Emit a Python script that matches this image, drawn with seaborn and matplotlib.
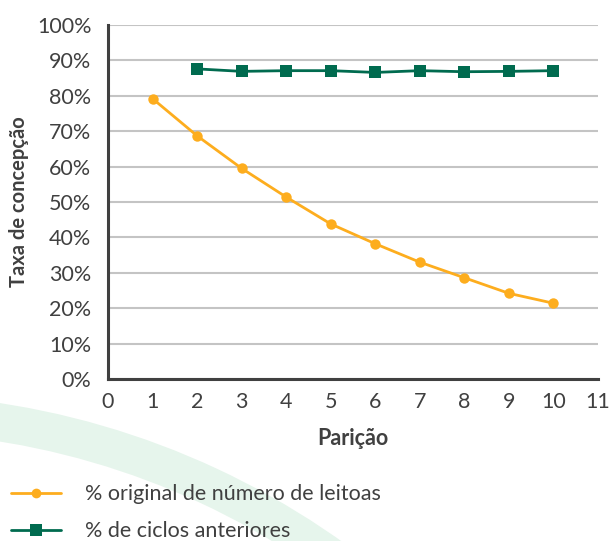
import numpy as np
import pandas as pd
import matplotlib.pyplot as plt
import seaborn as sns
from matplotlib.patches import Wedge
from matplotlib.lines import Line2D

# --------------------------------------------------------------------------- #
# Data
# --------------------------------------------------------------------------- #
paricao_original = [1, 2, 3, 4, 5, 6, 7, 8, 9, 10]
taxa_original = [79.2, 68.7, 59.5, 51.4, 43.8, 38.2, 33.0, 28.6, 24.2, 21.4]

paricao_ciclos = [2, 3, 4, 5, 6, 7, 8, 9, 10]
taxa_ciclos = [87.6, 86.9, 87.1, 87.1, 86.6, 87.1, 86.8, 86.9, 87.1]

serie_original = "% original de número de leitoas"
serie_ciclos = "% de ciclos anteriores"

x_ticks = list(range(0, 12))
y_ticks = list(range(0, 101, 10))

df = pd.concat([
    pd.DataFrame({"Parição": paricao_original, "Taxa": taxa_original, "Série": serie_original}),
    pd.DataFrame({"Parição": paricao_ciclos, "Taxa": taxa_ciclos, "Série": serie_ciclos}),
])

ORANGE = "#FDAD1E"
GREEN = "#006B4F"
TEXT = "#404040"
FS = 15.5

sns.set_style("white")
plt.rcParams["font.family"] = ["Lato", "DejaVu Sans"]

fig = plt.figure(figsize=(6.11, 5.41), dpi=100)

# decorative background band (pixel coordinates, origin bottom-left)
band = Wedge((-120, -650), 797, 30, 100, width=38, transform=None,
             facecolor="#E6F5EC", edgecolor="none", zorder=-1)
fig.patches.append(band)

ax = fig.add_axes([108 / 611, 1 - 379 / 541, 490 / 611, 354 / 541])
ax.patch.set_alpha(0)

sns.lineplot(data=df, x="Parição", y="Taxa", hue="Série", style="Série",
             palette={serie_original: ORANGE, serie_ciclos: GREEN},
             markers={serie_original: "o", serie_ciclos: "s"},
             dashes=False, markeredgewidth=0, linewidth=2, ax=ax, legend=False)
for ln in ax.lines:
    ln.set_markersize(7.5 if ln.get_marker() == "o" else 8.5)

ax.set_xlim(0, 11)
ax.set_ylim(0, 100)
ax.set_xticks(x_ticks)
ax.set_yticks(y_ticks)
ax.set_yticklabels([f"{v}%" for v in y_ticks])
ax.yaxis.grid(True, color="#C4C4C4", linewidth=1.5)
ax.set_axisbelow(True)

for side in ["top", "right"]:
    ax.spines[side].set_visible(False)
for side in ["left", "bottom"]:
    ax.spines[side].set_color(TEXT)
    ax.spines[side].set_linewidth(2.2)

ax.tick_params(axis="both", colors=TEXT, labelsize=FS, length=5, width=1,
               direction="out", pad=5)
ax.tick_params(axis="x", length=4, color="#808080")
ax.tick_params(axis="y", color="#A0A0A0", pad=7)

ax.set_xlabel("Parição", fontsize=FS, fontweight="bold", color=TEXT, labelpad=12)
ax.set_ylabel("Taxa de concepção", fontsize=14.5, fontweight="bold", color=TEXT, labelpad=6)

handles = [
    Line2D([], [], color=ORANGE, marker="o", markersize=7, linewidth=2, markeredgewidth=0),
    Line2D([], [], color=GREEN, marker="s", markersize=8, linewidth=2, markeredgewidth=0),
]
fig.legend(handles, [serie_original, serie_ciclos], loc="upper left",
           bbox_to_anchor=(-8 / 611, 1 - 465 / 541), frameon=False, fontsize=FS,
           handlelength=2.3, handletextpad=1.1, labelspacing=0.78, labelcolor=TEXT)

fig.savefig("out.png", dpi=100)
